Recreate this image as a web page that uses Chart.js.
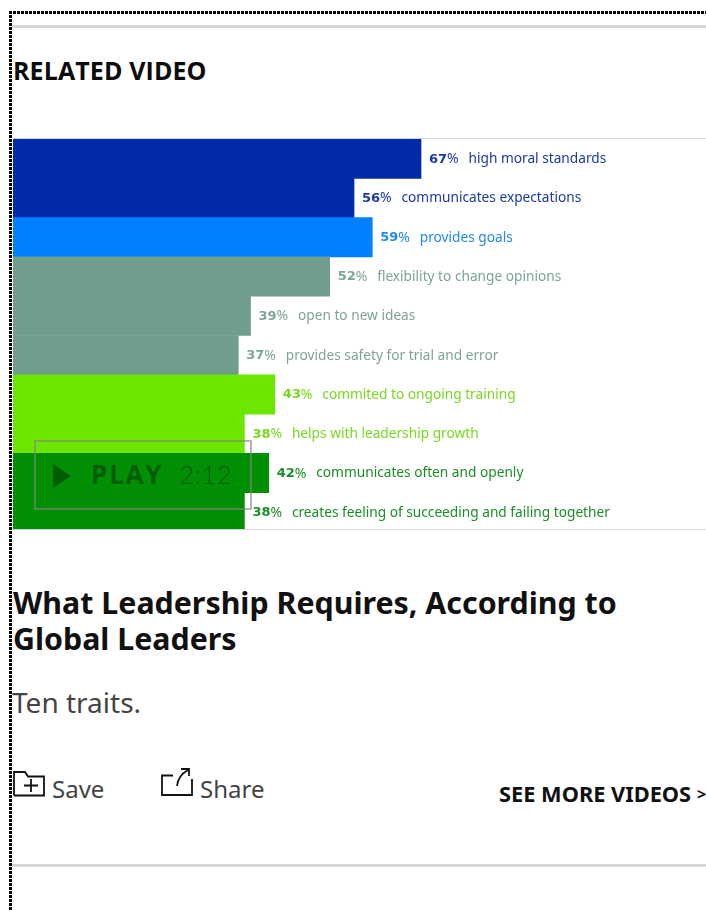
<!DOCTYPE html>
<html>
<head>
<meta charset="utf-8">
<title>Related video</title>
<script src="https://cdn.jsdelivr.net/npm/chart.js@4"></script>
<style>
  html, body { margin: 0; padding: 0; background: #fff; overflow: hidden; width: 706px; height: 911px; }
  #edgeTop { position: absolute; left: 9px; top: 11px; width: 697px; height: 3px; background: repeating-linear-gradient(90deg, #000 0 3px, #fff 3px 4px); }
  #edgeLeft { position: absolute; left: 9px; top: 11px; width: 3px; height: 900px; background: repeating-linear-gradient(180deg, #000 0 3px, #fff 3px 4px); }
  .rule { position: absolute; left: 12px; width: 694px; height: 3px; background: #d6d6d6; }
  .txt { position: absolute; white-space: nowrap; font-family: "Noto Sans", sans-serif; }
  #heading { left: 13px; top: 53px; font: 700 25px/34px "Open Sans", sans-serif; letter-spacing: .1px; color: #0c0c0c; }
  #chartBox { position: absolute; left: 13px; top: 138px; width: 693px; height: 390px; border-top: 1px solid #d4d4d4; border-bottom: 1px solid #d4d4d4; overflow: hidden; }
  #grafico { position: absolute; left: 0; top: 0; }
  #play { position: absolute; left: 34px; top: 440px; width: 214px; height: 66px; border: 2px solid rgba(130,130,130,.6); }
  #tri { position: absolute; left: 53px; top: 464px; width: 0; height: 0; border-left: 18px solid #005c00; border-top: 12px solid transparent; border-bottom: 12px solid transparent; }
  #playTxt { left: 91px; top: 456px; font: 700 26px/36px "Open Sans", sans-serif; letter-spacing: 1.8px; color: #005c00; }
  #time { left: 179px; top: 456px; font: 300 26px/36px Lato, sans-serif; letter-spacing: .4px; color: #005c00; }
  #title { left: 13px; top: 585px; font-weight: 700; font-size: 30.35px; line-height: 36px; color: #111; white-space: normal; width: 690px; }
  #dek { left: 12px; top: 683px; font-size: 28px; line-height: 38px; color: #444; }
  .act { font-size: 24px; line-height: 34px; color: #444; top: 772px; }
  #more { left: 499px; top: 778px; font-weight: 700; font-size: 21.8px; line-height: 32px; color: #111; }
  #moreArrow { left: 697px; top: 780px; font-weight: 700; font-size: 16px; line-height: 28px; color: #111; }
  svg.icon { position: absolute; fill: none; stroke: #111; stroke-width: 1.8; }
</style>
</head>
<body>
<div id="edgeTop"></div>
<div id="edgeLeft"></div>
<div class="rule" style="top:25px"></div>
<div class="txt" id="heading">RELATED VIDEO</div>

<div id="chartBox"><canvas id="grafico" width="693" height="393"></canvas></div>

<div id="play"></div>
<div id="tri"></div>
<div class="txt" id="playTxt">PLAY</div>
<div class="txt" id="time">2:12</div>

<div class="txt" id="title">What Leadership Requires, According to Global Leaders</div>
<div class="txt" id="dek">Ten traits.</div>

<svg class="icon" style="left:12px;top:770px" width="34" height="28">
  <path d="M2 25.5V2h11l3 4.5h16V25.5H2"/>
  <path d="M12 15.5h14M19 9v13"/>
</svg>
<div class="txt act" style="left:52px">Save</div>
<svg class="icon" style="left:160px;top:767px" width="34" height="30">
  <path d="M13 8.5H2V28H32V12"/>
  <path d="M17 19C17.5 12 21 7 28 3M21 2h8v7"/>
</svg>
<div class="txt act" style="left:200px">Share</div>
<div class="txt" id="more">SEE MORE VIDEOS</div>
<div class="txt" id="moreArrow">&gt;</div>
<div class="rule" style="top:864px"></div>

<script>
var categories = [
    "high moral standards",
    "communicates expectations",
    "provides goals",
    "flexibility to change opinions",
    "open to new ideas",
    "provides safety for trial and error",
    "commited to ongoing training",
    "helps with leadership growth",
    "communicates often and openly",
    "creates feeling of succeeding and failing together"
];
var values = [67, 56, 59, 52, 39, 37, 43, 38, 42, 38];
var barColors = ["#032ba9", "#032ba9", "#0080ff", "#6f9e8e", "#6f9e8e", "#6f9e8e", "#6ce800", "#6ce800", "#008f05", "#008f05"];
var textColors = ["#1c3aa3", "#1c3aa3", "#2289ee", "#7da597", "#7da597", "#7da597", "#77d91f", "#77d91f", "#1a8f25", "#1a8f25"];

// writes "67% high moral standards" just past the end of each bar
var barLabels = {
    id: 'barLabels',
    afterDatasetsDraw: function (chart) {
        var c = chart.ctx;
        var xs = chart.scales.x, ys = chart.scales.y;
        c.save();
        c.textBaseline = 'middle';
        values.forEach(function (v, i) {
            var x = xs.getPixelForValue(v) + 9;
            var y = ys.getPixelForValue(i) + 0.5;
            c.fillStyle = textColors[i];
            c.font = '700 13px "DejaVu Sans"';
            c.fillText(v, x - 1, y);
            c.font = '400 14px "Noto Sans"';
            c.fillText('%', x + 17, y);
            c.font = '400 13.7px "Noto Sans"';
            c.fillText(categories[i], x + 38.5, y);
        });
        c.restore();
    }
};

var ctx = document.getElementById("grafico").getContext('2d');
var grafico = new Chart(ctx, {
    type: 'bar',
    data: {
        labels: categories,
        datasets: [
            {
                data: values,
                backgroundColor: barColors,
                borderWidth: 0,
                barPercentage: 1,
                categoryPercentage: 1
            }
        ]
    },
    options: {
        indexAxis: 'y',
        responsive: false,
        animation: false,
        layout: { padding: 0 },
        plugins: { legend: { display: false }, tooltip: { enabled: false } },
        scales: {
            x: { display: false, min: 0, max: 113.8 },
            y: { display: false }
        }
    },
    plugins: [barLabels]
});
</script>
</body>
</html>
